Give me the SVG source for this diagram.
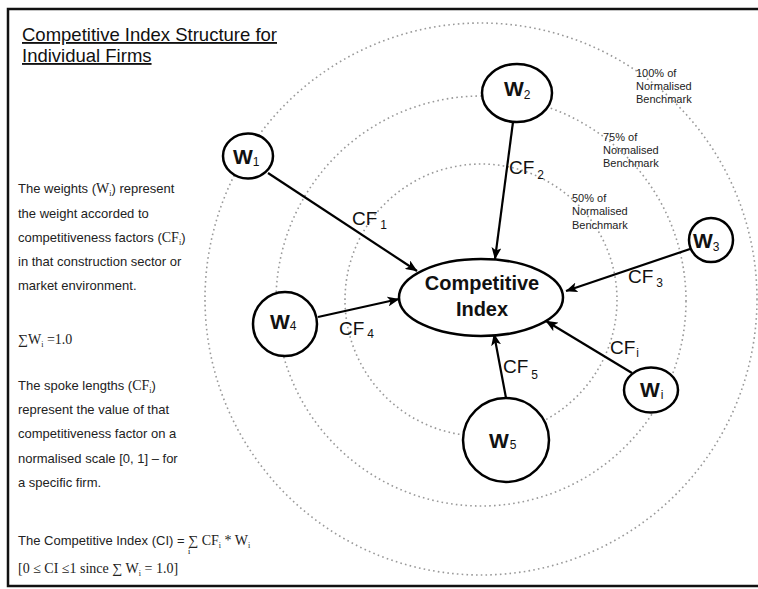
<svg xmlns="http://www.w3.org/2000/svg" width="758" height="589" viewBox="0 0 758 589">
<defs>
<marker id="arr" viewBox="0 0 12 10" markerWidth="12" markerHeight="10" refX="11.5" refY="5" orient="auto" markerUnits="userSpaceOnUse">
<path d="M0,0 L12,5 L0,10 L3,5 z" fill="#000"/>
</marker>
</defs>
<style>
.ring{fill:none;stroke:#999;stroke-width:1.6;stroke-dasharray:1.6 3.2;}
.node{fill:#fff;stroke:#000;stroke-width:2.5;}
.edge{stroke:#000;stroke-width:2.2;fill:none;marker-end:url(#arr);}
.w{font-family:"Liberation Sans",Arial,sans-serif;font-weight:bold;font-size:21px;fill:#111;}
.ws{font-family:"Liberation Sans",Arial,sans-serif;font-weight:normal;font-size:12px;}
.cf{font-family:"Liberation Sans",Arial,sans-serif;font-size:19px;fill:#111;}
.cfs{font-size:12px;}
.bm{font-family:"Liberation Sans",Arial,sans-serif;font-size:11px;fill:#222;}
.txt{font-family:"Liberation Sans",Arial,sans-serif;font-size:13px;fill:#222;}
.m{font-family:"Liberation Serif","Times New Roman",serif;font-size:14px;}
.ms{font-family:"Liberation Serif","Times New Roman",serif;font-size:8px;}
.title{font-family:"Liberation Sans",Arial,sans-serif;font-size:18.5px;fill:#111;text-decoration:underline;}
</style>
<rect x="0" y="0" width="758" height="589" fill="#fff"/>
<rect x="8" y="9" width="760" height="577" fill="none" stroke="#111" stroke-width="2.5"/>
<g id="rings">
<circle class="ring" cx="481" cy="300" r="136" stroke="#bbb"/>
<circle class="ring" cx="481" cy="301" r="205"/>
<circle class="ring" cx="481" cy="299" r="276"/>
</g>
<g id="ring-labels">
<text class="bm" x="636" y="77">100% of</text>
<text class="bm" x="636" y="90">Normalised</text>
<text class="bm" x="636" y="103">Benchmark</text>
<text class="bm" x="603" y="141">75% of</text>
<text class="bm" x="603" y="154">Normalised</text>
<text class="bm" x="603" y="167">Benchmark</text>
<text class="bm" x="572" y="202">50% of</text>
<text class="bm" x="572" y="215">Normalised</text>
<text class="bm" x="572" y="229">Benchmark</text>
</g>
<g id="title">
<text class="title" x="22" y="41">Competitive Index Structure for</text>
<text class="title" x="22" y="62">Individual Firms</text>
</g>
<g id="notes">
<text class="txt" x="18" y="193">The weights (<tspan class="m">W</tspan><tspan class="ms" dy="3">i</tspan><tspan dy="-3">) represent</tspan></text>
<text class="txt" x="18" y="218">the weight accorded to</text>
<text class="txt" x="18" y="242">competitiveness factors (<tspan class="m">CF</tspan><tspan class="ms" dy="3">i</tspan><tspan dy="-3">)</tspan></text>
<text class="txt" x="18" y="266">in that construction sector or</text>
<text class="txt" x="18" y="290">market environment.</text>
<text class="txt" x="18" y="344"><tspan class="m">∑W</tspan><tspan class="ms" dy="3">i</tspan><tspan class="m" dy="-3"> =1.0</tspan></text>
<text class="txt" x="18" y="390">The spoke lengths (<tspan class="m">CF</tspan><tspan class="ms" dy="3">i</tspan><tspan dy="-3">)</tspan></text>
<text class="txt" x="18" y="414">represent the value of that</text>
<text class="txt" x="18" y="438">competitiveness factor on a</text>
<text class="txt" x="18" y="463">normalised scale [0, 1] – for</text>
<text class="txt" x="18" y="487">a specific firm.</text>
<text class="txt" x="18" y="545">The Competitive Index (CI) = <tspan class="m">∑</tspan><tspan class="m"> CF</tspan><tspan class="ms" dy="3">i</tspan><tspan class="m" dy="-3"> * W</tspan><tspan class="ms" dy="3">i</tspan></text>
<text class="ms" x="188" y="554">i</text>
<text class="txt" x="18" y="573"><tspan class="m">[0 ≤ CI ≤1 since ∑ W</tspan><tspan class="ms" dy="3">i</tspan><tspan class="m" dy="-3"> = 1.0]</tspan></text>
</g>
<g id="connectors">
<line class="edge" x1="268" y1="173" x2="417" y2="271"/>
<line class="edge" x1="513" y1="122" x2="495" y2="259"/>
<line class="edge" x1="690" y1="249" x2="566" y2="291"/>
<line class="edge" x1="318" y1="317" x2="399" y2="299"/>
<line class="edge" x1="506" y1="398" x2="494" y2="334"/>
<line class="edge" x1="632" y1="373" x2="546" y2="321"/>
</g>
<g id="edge-labels">
<text class="cf" x="352" y="225">CF<tspan class="cfs" dx="3" dy="4">1</tspan></text>
<text class="cf" x="509" y="174">CF<tspan class="cfs" dx="3" dy="5">2</tspan></text>
<text class="cf" x="628" y="283">CF<tspan class="cfs" dx="3" dy="4">3</tspan></text>
<text class="cf" x="339" y="335">CF<tspan class="cfs" dx="3" dy="3">4</tspan></text>
<text class="cf" x="503" y="373">CF<tspan class="cfs" dx="3" dy="6">5</tspan></text>
<text class="cf" x="610" y="354">CF<tspan class="cfs" dx="1" dy="3">i</tspan></text>
</g>
<g id="node-ci">
<ellipse class="node" cx="481" cy="297.5" rx="82" ry="38.5"/>
<text x="482" y="290" text-anchor="middle" font-family="Liberation Sans,Arial,sans-serif" font-weight="bold" font-size="20" fill="#111">Competitive</text>
<text x="482" y="316" text-anchor="middle" font-family="Liberation Sans,Arial,sans-serif" font-weight="bold" font-size="20" fill="#111">Index</text>
</g>
<g id="node-w1">
<ellipse class="node" cx="248" cy="156" rx="25" ry="22.5"/>
<text class="w" x="233" y="164">W<tspan class="ws" dy="2">1</tspan></text>
</g>
<g id="node-w2">
<ellipse class="node" cx="517" cy="93" rx="35" ry="29"/>
<text class="w" x="504" y="96">W<tspan class="ws" dy="3">2</tspan></text>
</g>
<g id="node-w3">
<ellipse class="node" cx="711" cy="240" rx="22" ry="22"/>
<text class="w" x="693" y="248">W<tspan class="ws" dy="3">3</tspan></text>
</g>
<g id="node-w4">
<circle class="node" cx="285" cy="324" r="32"/>
<text class="w" x="270" y="329">W<tspan class="ws" dy="1">4</tspan></text>
</g>
<g id="node-w5">
<ellipse class="node" cx="506" cy="440" rx="43" ry="42"/>
<text class="w" x="489" y="448" font-size="22">W<tspan class="ws" dx="1" dy="1">5</tspan></text>
</g>
<g id="node-wi">
<ellipse class="node" cx="651" cy="390" rx="27" ry="22.5"/>
<text class="w" x="640" y="397">W<tspan class="ws" dx="1" dy="2">i</tspan></text>
</g>
</svg>
